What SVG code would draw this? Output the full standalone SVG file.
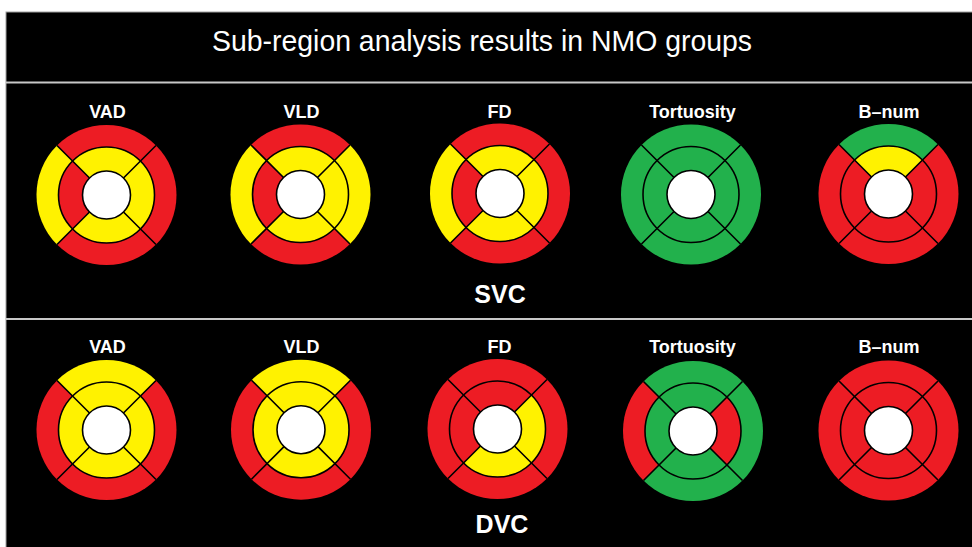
<svg xmlns="http://www.w3.org/2000/svg" xmlns:xlink="http://www.w3.org/1999/xlink" width="972" height="547" viewBox="0 0 972 547">
<style>
.r{fill:#ED1C24}.y{fill:#FFF200}.g{fill:#22B14C}
.lbl{font-family:"Liberation Sans",Arial,sans-serif;font-weight:bold;font-size:18px;fill:#fff;text-anchor:middle}
.big{font-family:"Liberation Sans",Arial,sans-serif;font-weight:bold;font-size:25px;fill:#fff;text-anchor:middle}
.ttl{font-family:"Liberation Sans",Arial,sans-serif;font-size:29px;fill:#fff;text-anchor:middle}
.ln{fill:none;stroke:#000;stroke-width:1.6}
.hole{fill:#fff;stroke:#000;stroke-width:1.6}
.sep{stroke:#c8c8c8;stroke-width:2}
</style>
<defs>
<path id="oT" d="M0,0 L-49.5,-49.5 A70,70 0 0,1 49.5,-49.5 Z"/>
<path id="oR" d="M0,0 L49.5,-49.5 A70,70 0 0,1 49.5,49.5 Z"/>
<path id="oB" d="M0,0 L49.5,49.5 A70,70 0 0,1 -49.5,49.5 Z"/>
<path id="oL" d="M0,0 L-49.5,49.5 A70,70 0 0,1 -49.5,-49.5 Z"/>
<path id="mT" d="M0,0 L-33.94,-33.94 A48,48 0 0,1 33.94,-33.94 Z"/>
<path id="mR" d="M0,0 L33.94,-33.94 A48,48 0 0,1 33.94,33.94 Z"/>
<path id="mB" d="M0,0 L33.94,33.94 A48,48 0 0,1 -33.94,33.94 Z"/>
<path id="mL" d="M0,0 L-33.94,33.94 A48,48 0 0,1 -33.94,-33.94 Z"/>
<g id="grid">
<circle class="ln" r="48"/>
<path class="ln" d="M16.97,-16.97 L49.5,-49.5 M16.97,16.97 L49.5,49.5 M-16.97,16.97 L-49.5,49.5 M-16.97,-16.97 L-49.5,-49.5"/>
<circle class="hole" r="24"/>
</g>
</defs>
<rect width="972" height="547" fill="#fff"/>
<rect x="6" y="12" width="967" height="536" fill="#000" stroke="#a0a0a0" stroke-width="1"/>
<line class="sep" x1="6" y1="82.5" x2="972" y2="82.5"/>
<line class="sep" x1="6" y1="319" x2="972" y2="319"/>
<text class="ttl" x="482" y="51" textLength="540" lengthAdjust="spacingAndGlyphs">Sub-region analysis results in NMO groups</text>
<text class="big" x="500" y="303">SVC</text>
<text class="big" x="502" y="533">DVC</text>

<g id="svc-vad">
<text class="lbl" x="107.5" y="117.5">VAD</text>
<g transform="translate(106.5,195)">
<use href="#oT" class="r"/><use href="#oR" class="r"/><use href="#oB" class="r"/><use href="#oL" class="y"/>
<use href="#mT" class="y"/><use href="#mR" class="y"/><use href="#mB" class="y"/><use href="#mL" class="r"/>
<use href="#grid"/>
</g>
</g>
<g id="svc-vld">
<text class="lbl" x="301.5" y="117.5">VLD</text>
<g transform="translate(300.5,194.5)">
<use href="#oT" class="r"/><use href="#oR" class="y"/><use href="#oB" class="r"/><use href="#oL" class="y"/>
<use href="#mT" class="y"/><use href="#mR" class="y"/><use href="#mB" class="y"/><use href="#mL" class="r"/>
<use href="#grid"/>
</g>
</g>
<g id="svc-fd">
<text class="lbl" x="499.5" y="117.5">FD</text>
<g transform="translate(500,193.5)">
<use href="#oT" class="r"/><use href="#oR" class="r"/><use href="#oB" class="r"/><use href="#oL" class="y"/>
<use href="#mT" class="y"/><use href="#mR" class="y"/><use href="#mB" class="y"/><use href="#mL" class="r"/>
<use href="#grid"/>
</g>
</g>
<g id="svc-tortuosity">
<text class="lbl" x="692.5" y="117.5">Tortuosity</text>
<g transform="translate(691,194.5)">
<use href="#oT" class="g"/><use href="#oR" class="g"/><use href="#oB" class="g"/><use href="#oL" class="g"/>
<use href="#mT" class="g"/><use href="#mR" class="g"/><use href="#mB" class="g"/><use href="#mL" class="g"/>
<use href="#grid"/>
</g>
</g>
<g id="svc-bnum">
<text class="lbl" x="889" y="117.5">B–num</text>
<g transform="translate(888.5,194)">
<use href="#oT" class="g"/><use href="#oR" class="r"/><use href="#oB" class="r"/><use href="#oL" class="r"/>
<use href="#mT" class="y"/><use href="#mR" class="r"/><use href="#mB" class="r"/><use href="#mL" class="r"/>
<use href="#grid"/>
</g>
</g>

<g id="dvc-vad">
<text class="lbl" x="107.5" y="352.5">VAD</text>
<g transform="translate(106.5,430)">
<use href="#oT" class="y"/><use href="#oR" class="r"/><use href="#oB" class="r"/><use href="#oL" class="r"/>
<use href="#mT" class="y"/><use href="#mR" class="y"/><use href="#mB" class="y"/><use href="#mL" class="y"/>
<use href="#grid"/>
</g>
</g>
<g id="dvc-vld">
<text class="lbl" x="301.5" y="352.5">VLD</text>
<g transform="translate(301,429.7)">
<use href="#oT" class="y"/><use href="#oR" class="r"/><use href="#oB" class="r"/><use href="#oL" class="r"/>
<use href="#mT" class="y"/><use href="#mR" class="y"/><use href="#mB" class="y"/><use href="#mL" class="y"/>
<use href="#grid"/>
</g>
</g>
<g id="dvc-fd">
<text class="lbl" x="499.5" y="352.5">FD</text>
<g transform="translate(497.5,429)">
<use href="#oT" class="r"/><use href="#oR" class="r"/><use href="#oB" class="r"/><use href="#oL" class="r"/>
<use href="#mT" class="r"/><use href="#mR" class="y"/><use href="#mB" class="y"/><use href="#mL" class="r"/>
<use href="#grid"/>
</g>
</g>
<g id="dvc-tortuosity">
<text class="lbl" x="692.5" y="352.5">Tortuosity</text>
<g transform="translate(693,431)">
<use href="#oT" class="g"/><use href="#oR" class="g"/><use href="#oB" class="g"/><use href="#oL" class="r"/>
<use href="#mT" class="g"/><use href="#mR" class="r"/><use href="#mB" class="g"/><use href="#mL" class="g"/>
<use href="#grid"/>
</g>
</g>
<g id="dvc-bnum">
<text class="lbl" x="889" y="352.5">B–num</text>
<g transform="translate(888.5,430.5)">
<use href="#oT" class="r"/><use href="#oR" class="r"/><use href="#oB" class="r"/><use href="#oL" class="r"/>
<use href="#mT" class="r"/><use href="#mR" class="r"/><use href="#mB" class="r"/><use href="#mL" class="r"/>
<use href="#grid"/>
</g>
</g>
</svg>
